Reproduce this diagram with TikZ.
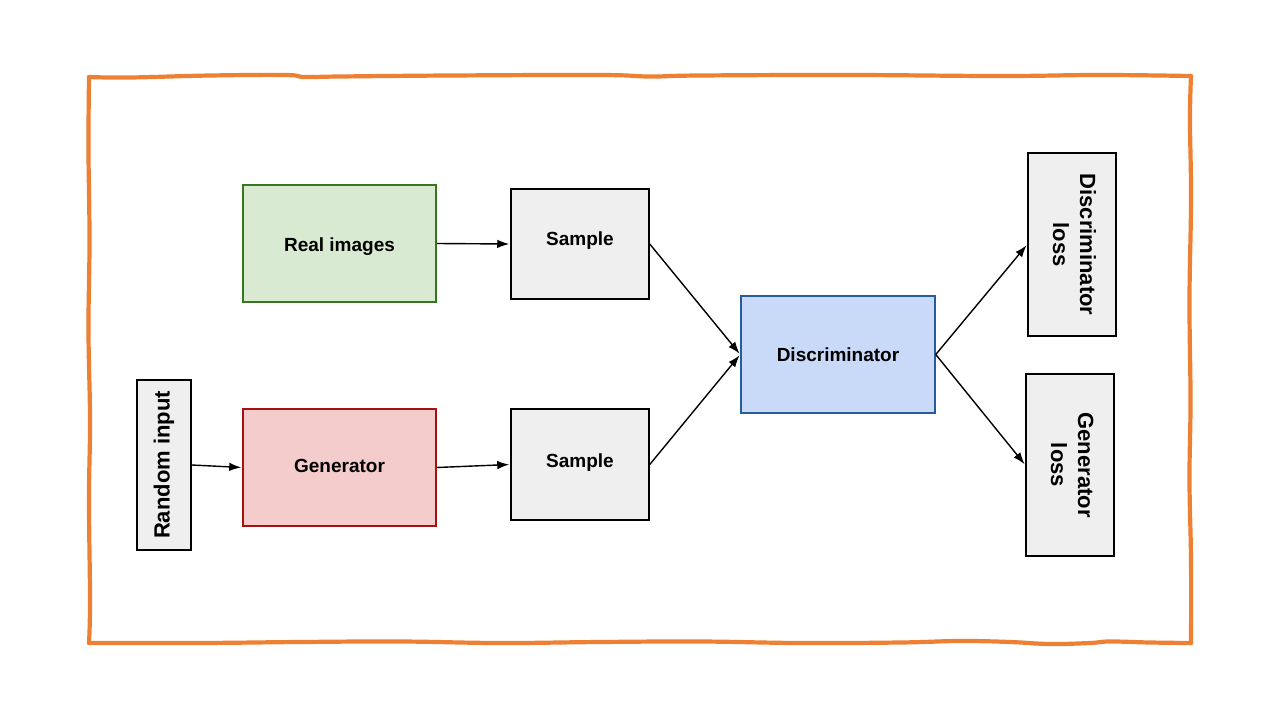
\documentclass[tikz,border=0pt]{standalone}
\usepackage{fontspec}
\setmainfont{Liberation Sans}
\usetikzlibrary{arrows.meta}
\definecolor{frameor}{RGB}{238,128,52}
\definecolor{boxgray}{RGB}{239,239,239}
\definecolor{greenfill}{RGB}{217,234,211}
\definecolor{greenline}{RGB}{56,118,29}
\definecolor{redfill}{RGB}{244,204,204}
\definecolor{redline}{RGB}{166,16,16}
\definecolor{bluefill}{RGB}{201,218,248}
\definecolor{blueline}{RGB}{36,92,158}
\newcommand{\vshift}[2]{\raisebox{#1}[\height][\depth]{#2}}
\tikzset{
  box/.style={draw=black, line width=1.5pt, fill=boxgray, inner sep=0pt, font=\fontsize{19}{23}\selectfont\bfseries, align=center},
  rbox/.style={box, font=\fontsize{22}{27}\selectfont\bfseries},
  conn/.style={line width=1.4pt, -{Latex[length=12pt,width=8.5pt]}, shorten >=1pt},
  frame/.style={draw=frameor, line width=4.2pt, line cap=round, line join=round}
}
\begin{document}
\begin{tikzpicture}[x=1pt,y=-1pt]
\useasboundingbox (0,0) rectangle (1280,720);
% hand-drawn frame
\draw[frame] plot[smooth, tension=0.7] coordinates {(89,77) (130,77.5) (210,75.5) (285,75) (305,77) (340,76.5) (450,75.5) (600,75) (650,76.5) (700,75.5) (850,75) (1000,76) (1100,75) (1191,76)};
\draw[frame] plot[smooth, tension=0.7] coordinates {(1191,76) (1190,120) (1191,200) (1189.5,300) (1190.5,400) (1189.5,480) (1191,560) (1191,643)};
\draw[frame] plot[smooth, tension=0.7] coordinates {(1191,643) (1150,642.5) (1110,641.5) (1090,643) (1050,644) (1010,642) (960,641) (900,642.5) (800,643) (700,641.5) (600,642) (500,643) (400,641.5) (300,642) (200,643) (89,643)};
\draw[frame] plot[smooth, tension=0.7] coordinates {(89,643) (90,600) (89,500) (90,420) (88.5,330) (89.5,240) (88.5,150) (89,77)};
% nodes
\node[rbox, minimum width=54, minimum height=170] (ri) at (164,465) {\rotatebox{90}{Random input}};
\node[box, fill=greenfill, draw=greenline, minimum width=193, minimum height=117] (real) at (339.5,243.5) {\vshift{-3pt}{Real images}};
\node[box, fill=redfill, draw=redline, minimum width=193, minimum height=117] (gen) at (339.5,467.5) {\vshift{2pt}{Generator}};
\node[box, minimum width=138, minimum height=110] (s1) at (580,244) {\vshift{3pt}{Sample}};
\node[box, minimum width=138, minimum height=111] (s2) at (580,464.5) {\vshift{1.5pt}{Sample}};
\node[box, fill=bluefill, draw=blueline, minimum width=194, minimum height=117] (disc) at (838,354.5) {Discriminator};
\node[rbox, minimum width=88, minimum height=183] (dl) at (1072,244.5) {\rotatebox{-90}{\begin{tabular}{@{}c@{}}Discriminator\\loss\end{tabular}}};
\node[rbox, minimum width=88, minimum height=182] (gl) at (1070,465) {\rotatebox{-90}{\begin{tabular}{@{}c@{}}Generator\\loss\end{tabular}}};
% connectors
\draw[conn] (ri.east) -- (gen.west);
\draw[conn] (real.east) -- (s1.west);
\draw[conn] (gen.east) -- (s2.west);
\draw[conn] (s1.east) -- (disc.west);
\draw[conn] (s2.east) -- (disc.west);
\draw[conn] (disc.east) -- (dl.west);
\draw[conn] (disc.east) -- (gl.west);
\end{tikzpicture}
\end{document}
